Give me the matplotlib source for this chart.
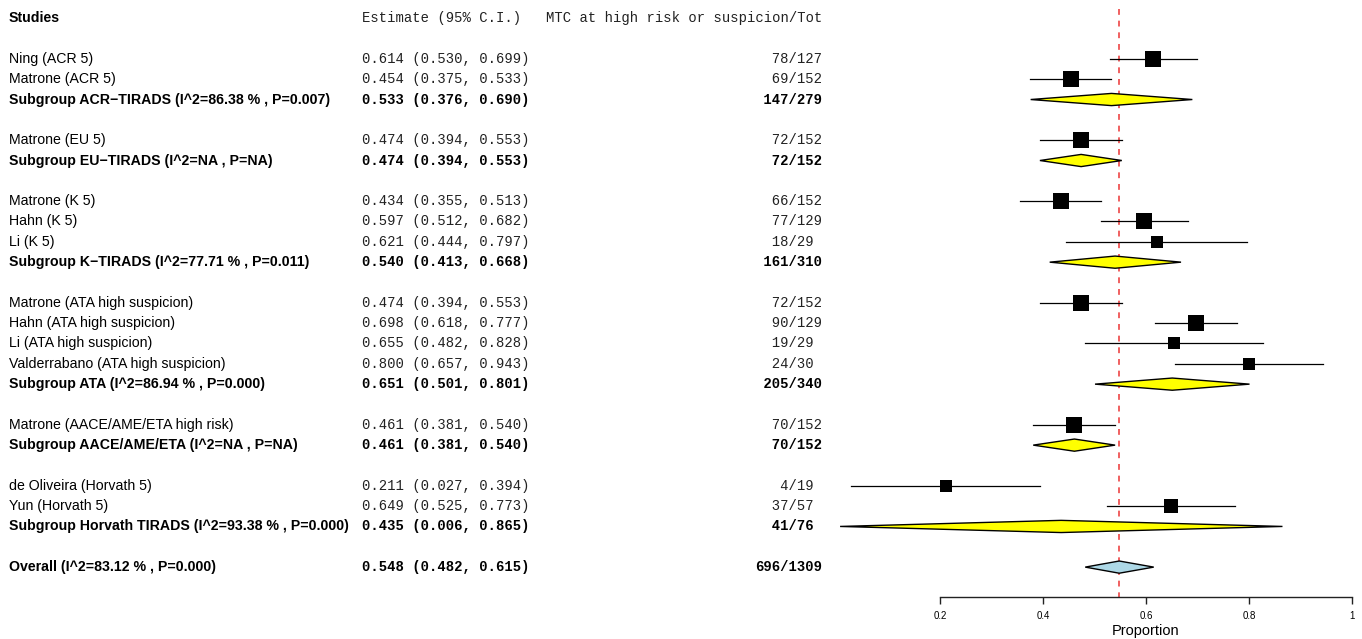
import numpy as np
import matplotlib
matplotlib.use("Agg")
import matplotlib.pyplot as plt
from matplotlib import transforms
from matplotlib.patches import Polygon

# ---- data -------------------------------------------------------------
labels = [
    "Ning (ACR 5)", "Matrone (ACR 5)", "Subgroup ACR\u2212TIRADS (I^2=86.38 % , P=0.007)",
    None,
    "Matrone (EU 5)", "Subgroup EU\u2212TIRADS (I^2=NA , P=NA)",
    None,
    "Matrone (K 5)", "Hahn (K 5)", "Li (K 5)", "Subgroup K\u2212TIRADS (I^2=77.71 % , P=0.011)",
    None,
    "Matrone (ATA high suspicion)", "Hahn (ATA high suspicion)", "Li (ATA high suspicion)",
    "Valderrabano (ATA high suspicion)", "Subgroup ATA (I^2=86.94 % , P=0.000)",
    None,
    "Matrone (AACE/AME/ETA high risk)", "Subgroup AACE/AME/ETA (I^2=NA , P=NA)",
    None,
    "de Oliveira (Horvath 5)", "Yun (Horvath 5)", "Subgroup Horvath TIRADS (I^2=93.38 % , P=0.000)",
    None,
    "Overall (I^2=83.12 % , P=0.000)",
]
# row kind: 's' = study, 'g' = subgroup summary, 'o' = overall summary
kinds = ["s", "s", "g", None, "s", "g", None, "s", "s", "s", "g", None,
         "s", "s", "s", "s", "g", None, "s", "g", None, "s", "s", "g", None, "o"]
estimate = [0.614, 0.454, 0.533, None, 0.474, 0.474, None, 0.434, 0.597, 0.621, 0.540, None,
            0.474, 0.698, 0.655, 0.800, 0.651, None, 0.461, 0.461, None, 0.211, 0.649, 0.435,
            None, 0.548]
lower = [0.530, 0.375, 0.376, None, 0.394, 0.394, None, 0.355, 0.512, 0.444, 0.413, None,
         0.394, 0.618, 0.482, 0.657, 0.501, None, 0.381, 0.381, None, 0.027, 0.525, 0.006,
         None, 0.482]
upper = [0.699, 0.533, 0.690, None, 0.553, 0.553, None, 0.513, 0.682, 0.797, 0.668, None,
         0.553, 0.777, 0.828, 0.943, 0.801, None, 0.540, 0.540, None, 0.394, 0.773, 0.865,
         None, 0.615]
events = [78, 69, 147, None, 72, 72, None, 66, 77, 18, 161, None,
          72, 90, 19, 24, 205, None, 70, 70, None, 4, 37, 41, None, 696]
totals = [127, 152, 279, None, 152, 152, None, 152, 129, 29, 310, None,
          152, 129, 29, 30, 340, None, 152, 152, None, 19, 57, 76, None, 1309]

pooled = 0.548
xticks = [0.2, 0.4, 0.6, 0.8, 1.0]
xticklabels = ["0.2", "0.4", "0.6", "0.8", "1"]

# ---- figure / layout --------------------------------------------------
W, H, DPI = 1362, 639, 100
fig = plt.figure(figsize=(W / DPI, H / DPI), dpi=DPI)
fig.patch.set_facecolor("white")

axis_px = 597               # vertical pixel position of the x axis line
x0_px, unit_px = 837, 515   # pixel position of 0 and pixels per unit
row0_px, row_px = 18.2, 20.33

ax = fig.add_axes([0, (H - axis_px) / H, 1, axis_px / H])
ax.set_xlim(-x0_px / unit_px, (W - x0_px) / unit_px)
ax.set_ylim((axis_px - row0_px) / row_px, -row0_px / row_px)
ax.set_facecolor("none")
for s in ("top", "right", "left"):
    ax.spines[s].set_visible(False)
ax.spines["bottom"].set_bounds(xticks[0], xticks[-1])
ax.spines["bottom"].set_linewidth(1.0)
ax.spines["bottom"].set_color("#222222")
ax.set_yticks([])
ax.set_xticks(xticks)
ax.set_xticklabels(xticklabels, fontsize=7, family="Liberation Sans")
ax.tick_params(axis="x", direction="out", length=5, width=1.0, color="#222222", pad=5)

sans = "Liberation Sans"
mono = "Liberation Mono"
fs = 10
tr = transforms.blended_transform_factory(fig.transFigure, ax.transData)
tr_lab = transforms.blended_transform_factory(ax.transData, fig.transFigure)

# axis title centred under the drawn axis line
ax.text((xticks[0] + xticks[-1]) / 2, 1 - 631 / H, "Proportion", transform=tr_lab,
        ha="center", va="center", fontsize=10.5, family=sans)

x_lab = 9 / W
x_est = 362 / W
x_cnt = 755 / W

# column headers (row 0)
ax.text(x_lab, 0, "Studies", transform=tr, ha="left", va="center",
        fontsize=10.2, family=sans, fontweight="bold")
ax.text(x_est, 0, "Estimate (95% C.I.)", transform=tr, ha="left", va="center",
        fontsize=fs, family=mono, color="#222222")
ax.text(822 / W, 0, "MTC at high risk or suspicion/Tot", transform=tr, ha="right",
        va="center", fontsize=fs, family=mono, color="#222222")

# pooled estimate reference line
ax.plot([pooled, pooled], [-0.45, ax.get_ylim()[0]], color="#EE4444", lw=1.2,
        ls=(0, (3.5, 3.5)), zorder=1)

dh = 0.3   # diamond half-height in rows
for i, lab in enumerate(labels):
    if lab is None:
        continue
    row = i + 2
    k = kinds[i]
    bold = k in ("g", "o")
    weight = "bold" if bold else "normal"
    tcol = "black" if bold else "#222222"
    ax.text(x_lab, row, lab, transform=tr, ha="left", va="center",
            fontsize=10.2, family=sans, fontweight=weight)
    est_txt = f"{estimate[i]:.3f} ({lower[i]:.3f}, {upper[i]:.3f})"
    ax.text(x_est, row, est_txt, transform=tr, ha="left", va="center",
            fontsize=fs, family=mono, fontweight=weight, color=tcol)
    cnt_txt = f"{events[i]}/{str(totals[i]).ljust(3)}".rjust(8)
    ax.text(x_cnt, row, cnt_txt, transform=tr, ha="left", va="center",
            fontsize=fs, family=mono, fontweight=weight, color=tcol)

    if k == "s":
        ax.plot([lower[i], upper[i]], [row, row], color="black", lw=0.9, zorder=2)
        # square area grows with the study size
        size_px = 9.6 + 0.55 * np.sqrt(totals[i])
        ax.plot(estimate[i], row, marker="s", ms=size_px * 72 / DPI,
                color="black", mec="black", mew=0, zorder=3)
    else:
        fc = "#FFFF00" if k == "g" else "#ADD8E6"
        poly = Polygon([[lower[i], row], [estimate[i], row - dh],
                        [upper[i], row], [estimate[i], row + dh]],
                       closed=True, facecolor=fc, edgecolor="black", lw=1.0, zorder=2)
        ax.add_patch(poly)

fig.savefig("out.png", dpi=DPI, facecolor="white")
